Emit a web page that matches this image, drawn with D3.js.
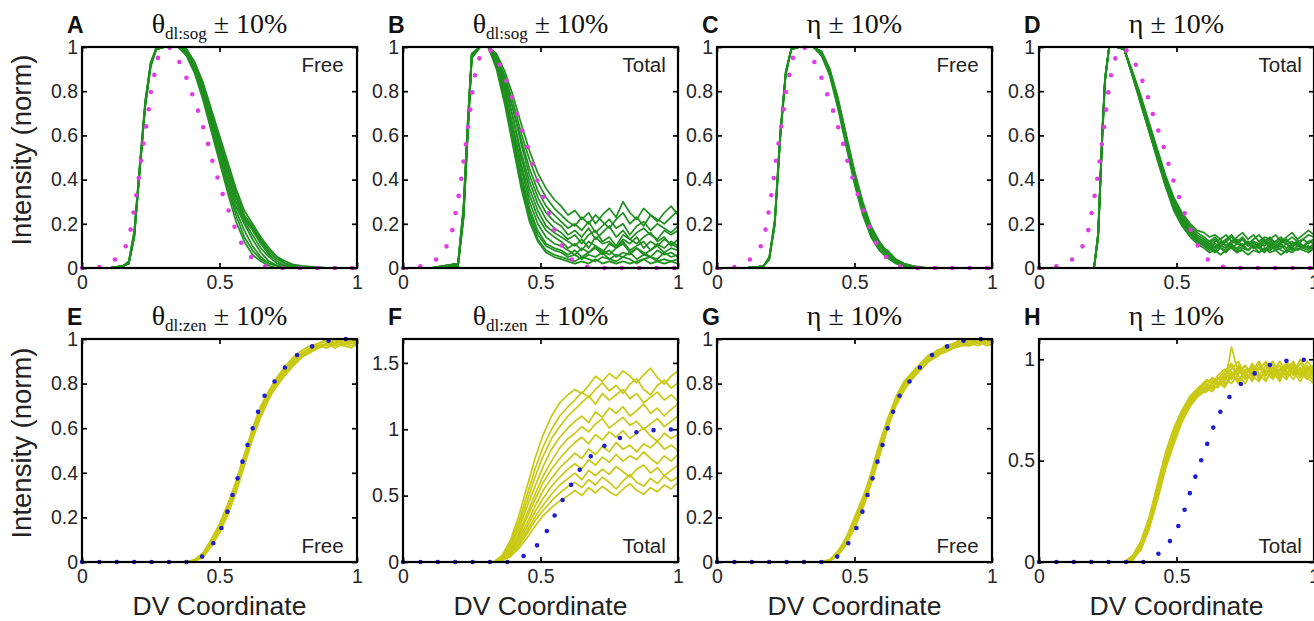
<!DOCTYPE html>
<html>
<head>
<meta charset="utf-8">
<script src="https://cdn.jsdelivr.net/npm/d3@7"></script>
<style>
  body { margin: 0; background: #fff; }
  svg { display: block; }
</style>
</head>
<body>
<div id="chart"></div>
<script>
// ---------- data ----------

var xTicks = [0, 0.5, 1]
var yTicks01 = [0, 0.2, 0.4, 0.6, 0.8, 1]
var yTicksF = [0, 0.5, 1, 1.5]
var yTicksH = [0, 0.5, 1]

// reference (dotted) profiles, [x, y]
var refFree = [[0, 0], [0.07, 0.005], [0.13, 0.045], [0.16, 0.1], [0.178, 0.18], [0.19, 0.27], [0.2, 0.35], [0.209, 0.43], [0.217, 0.51], [0.226, 0.58], [0.235, 0.655], [0.244, 0.73], [0.252, 0.81], [0.266, 0.89], [0.276, 0.95], [0.295, 0.99], [0.315, 1], [0.335, 0.98], [0.355, 0.93], [0.38, 0.86], [0.4, 0.79], [0.42, 0.72], [0.44, 0.64], [0.457, 0.57], [0.473, 0.49], [0.49, 0.42], [0.51, 0.34], [0.53, 0.27], [0.552, 0.195], [0.573, 0.127], [0.6, 0.07], [0.63, 0.03], [0.655, 0.01], [0.7, 0], [1, 0]]
var refTotal = [[0, 0], [0.08, 0.01], [0.137, 0.05], [0.17, 0.125], [0.185, 0.2], [0.195, 0.28], [0.206, 0.35], [0.215, 0.43], [0.223, 0.51], [0.232, 0.59], [0.24, 0.67], [0.247, 0.75], [0.256, 0.83], [0.266, 0.9], [0.278, 0.95], [0.29, 0.98], [0.31, 0.995], [0.338, 0.96], [0.362, 0.89], [0.385, 0.82], [0.404, 0.74], [0.42, 0.67], [0.443, 0.59], [0.46, 0.52], [0.478, 0.44], [0.498, 0.36], [0.52, 0.285], [0.54, 0.21], [0.56, 0.14], [0.592, 0.068], [0.62, 0.03], [0.647, 0.01], [0.7, 0], [1, 0]]
var refFreeZen = [[0, 0], [0.4, 0], [0.425, 0.01], [0.446, 0.035], [0.484, 0.094], [0.511, 0.163], [0.532, 0.237], [0.55, 0.312], [0.568, 0.384], [0.586, 0.46], [0.604, 0.533], [0.622, 0.605], [0.642, 0.68], [0.665, 0.749], [0.702, 0.813], [0.74, 0.876], [0.783, 0.929], [0.835, 0.966], [0.894, 0.992], [0.95, 1], [1, 1]]
var refTotalZen = [[0, 0], [0.38, 0], [0.405, 0.01], [0.457, 0.064], [0.497, 0.145], [0.525, 0.24], [0.55, 0.345], [0.574, 0.443], [0.596, 0.525], [0.619, 0.61], [0.644, 0.7], [0.674, 0.78], [0.712, 0.85], [0.755, 0.905], [0.81, 0.953], [0.869, 0.99], [0.935, 0.995], [1, 1]]

// A: theta sog, free
var xA = [0, 0.1, 0.15, 0.17, 0.19, 0.21, 0.23, 0.25, 0.27, 0.3, 0.35, 0.38, 0.41, 0.44, 0.47, 0.5, 0.53, 0.56, 0.59, 0.62, 0.65, 0.68, 0.71, 0.74, 0.77, 0.8, 0.9, 1]
var curvesA = [
  [0, 0, 0.01, 0.03, 0.17, 0.47, 0.76, 0.93, 0.99, 1, 1, 0.96, 0.88, 0.76, 0.62, 0.48, 0.34, 0.21, 0.12, 0.06, 0.03, 0.01, 0, 0, 0, 0, 0, 0],
  [0, 0, 0.01, 0.02, 0.15, 0.45, 0.74, 0.92, 0.99, 1, 1, 0.97, 0.89, 0.78, 0.64, 0.5, 0.36, 0.24, 0.14, 0.08, 0.04, 0.02, 0.01, 0, 0, 0, 0, 0],
  [0, 0, 0.01, 0.02, 0.14, 0.44, 0.73, 0.92, 0.99, 1, 1, 0.97, 0.9, 0.79, 0.66, 0.52, 0.38, 0.26, 0.17, 0.1, 0.05, 0.02, 0.01, 0.005, 0, 0, 0, 0],
  [0, 0, 0.01, 0.02, 0.15, 0.46, 0.75, 0.93, 1, 1, 1, 0.98, 0.9, 0.8, 0.67, 0.54, 0.4, 0.28, 0.2, 0.13, 0.07, 0.03, 0.01, 0.005, 0, 0, 0, 0],
  [0, 0, 0.01, 0.02, 0.14, 0.44, 0.74, 0.92, 0.99, 1, 1, 0.98, 0.91, 0.81, 0.68, 0.55, 0.42, 0.3, 0.21, 0.15, 0.09, 0.05, 0.02, 0.01, 0.005, 0, 0, 0],
  [0, 0, 0.01, 0.03, 0.16, 0.46, 0.75, 0.93, 0.99, 1, 1, 0.98, 0.92, 0.82, 0.69, 0.56, 0.43, 0.32, 0.22, 0.17, 0.11, 0.06, 0.03, 0.01, 0.005, 0, 0, 0],
  [0, 0, 0.01, 0.02, 0.15, 0.45, 0.74, 0.92, 0.99, 1, 1, 0.99, 0.92, 0.82, 0.7, 0.57, 0.45, 0.33, 0.23, 0.18, 0.12, 0.07, 0.04, 0.02, 0.01, 0.005, 0, 0],
  [0, 0, 0.01, 0.02, 0.14, 0.44, 0.73, 0.91, 0.99, 1, 1, 0.99, 0.93, 0.83, 0.71, 0.58, 0.46, 0.35, 0.24, 0.19, 0.13, 0.08, 0.05, 0.02, 0.01, 0.005, 0, 0],
  [0, 0, 0.01, 0.02, 0.15, 0.45, 0.74, 0.92, 0.99, 1, 1, 0.99, 0.93, 0.84, 0.72, 0.6, 0.48, 0.36, 0.26, 0.2, 0.14, 0.09, 0.05, 0.03, 0.015, 0.01, 0, 0]
]

// B: theta sog, total
var xB = [0, 0.1, 0.2, 0.22, 0.235, 0.25, 0.28, 0.31, 0.34, 0.37, 0.4, 0.43, 0.46, 0.49, 0.52, 0.55, 0.575, 0.6, 0.625, 0.65, 0.675, 0.7, 0.725, 0.75, 0.775, 0.8, 0.825, 0.85, 0.875, 0.9, 0.925, 0.95, 0.975, 1]
var curvesB = [
  [0, 0, 0.01, 0.25, 0.62, 0.96, 1, 1, 0.97, 0.89, 0.78, 0.65, 0.53, 0.43, 0.36, 0.31, 0.28, 0.24, 0.26, 0.22, 0.25, 0.2, 0.24, 0.27, 0.23, 0.3, 0.25, 0.22, 0.27, 0.24, 0.21, 0.25, 0.28, 0.24],
  [0, 0, 0.01, 0.22, 0.58, 0.95, 1, 1, 0.96, 0.87, 0.75, 0.61, 0.49, 0.39, 0.32, 0.27, 0.24, 0.21, 0.19, 0.23, 0.2, 0.24, 0.21, 0.18, 0.22, 0.25, 0.2, 0.23, 0.19, 0.24, 0.22, 0.2, 0.23, 0.26],
  [0, 0, 0.02, 0.28, 0.66, 0.97, 1, 1, 0.95, 0.85, 0.72, 0.58, 0.45, 0.35, 0.28, 0.24, 0.21, 0.18, 0.2, 0.17, 0.21, 0.16, 0.19, 0.22, 0.18, 0.2, 0.15, 0.19, 0.21, 0.17, 0.2, 0.18, 0.16, 0.19],
  [0, 0, 0.01, 0.25, 0.62, 0.96, 1, 1, 0.96, 0.86, 0.72, 0.56, 0.42, 0.32, 0.25, 0.21, 0.19, 0.15, 0.17, 0.14, 0.18, 0.13, 0.16, 0.19, 0.14, 0.17, 0.13, 0.16, 0.18, 0.15, 0.13, 0.17, 0.15, 0.17],
  [0, 0, 0.01, 0.23, 0.6, 0.95, 1, 1, 0.94, 0.83, 0.68, 0.52, 0.39, 0.29, 0.22, 0.18, 0.16, 0.13, 0.15, 0.11, 0.15, 0.17, 0.12, 0.14, 0.1, 0.15, 0.13, 0.11, 0.14, 0.16, 0.12, 0.14, 0.1, 0.13],
  [0, 0, 0.02, 0.27, 0.64, 0.97, 1, 1, 0.95, 0.84, 0.68, 0.5, 0.36, 0.26, 0.19, 0.16, 0.14, 0.12, 0.1, 0.13, 0.09, 0.14, 0.11, 0.12, 0.09, 0.13, 0.11, 0.14, 0.09, 0.12, 0.1, 0.13, 0.11, 0.09],
  [0, 0, 0.01, 0.25, 0.62, 0.96, 1, 1, 0.93, 0.8, 0.64, 0.47, 0.33, 0.23, 0.17, 0.14, 0.12, 0.09, 0.11, 0.08, 0.12, 0.1, 0.07, 0.11, 0.09, 0.12, 0.08, 0.1, 0.12, 0.08, 0.11, 0.09, 0.12, 0.1],
  [0, 0, 0.01, 0.24, 0.61, 0.96, 1, 1, 0.94, 0.81, 0.63, 0.45, 0.3, 0.2, 0.14, 0.11, 0.1, 0.08, 0.06, 0.09, 0.07, 0.1, 0.08, 0.06, 0.09, 0.11, 0.07, 0.09, 0.06, 0.08, 0.1, 0.07, 0.09, 0.08],
  [0, 0, 0.02, 0.26, 0.63, 0.96, 1, 1, 0.92, 0.78, 0.6, 0.42, 0.27, 0.17, 0.11, 0.09, 0.08, 0.06, 0.08, 0.05, 0.07, 0.09, 0.06, 0.08, 0.05, 0.07, 0.06, 0.09, 0.07, 0.05, 0.08, 0.06, 0.07, 0.05],
  [0, 0, 0.01, 0.25, 0.62, 0.96, 1, 1, 0.93, 0.79, 0.6, 0.4, 0.25, 0.15, 0.1, 0.08, 0.07, 0.05, 0.06, 0.04, 0.06, 0.05, 0.07, 0.04, 0.06, 0.05, 0.07, 0.04, 0.06, 0.05, 0.04, 0.07, 0.05, 0.06],
  [0, 0, 0.01, 0.23, 0.6, 0.95, 1, 1, 0.91, 0.76, 0.57, 0.38, 0.23, 0.13, 0.08, 0.06, 0.05, 0.04, 0.03, 0.05, 0.04, 0.03, 0.05, 0.04, 0.03, 0.05, 0.04, 0.02, 0.04, 0.05, 0.03, 0.04, 0.03, 0.04],
  [0, 0, 0.02, 0.27, 0.65, 0.97, 1, 1, 0.9, 0.74, 0.55, 0.36, 0.21, 0.12, 0.07, 0.05, 0.04, 0.03, 0.02, 0.03, 0.02, 0.04, 0.02, 0.03, 0.02, 0.03, 0.02, 0.03, 0.04, 0.02, 0.03, 0.02, 0.03, 0.02]
]

// C: eta, free
var xC = xA
var curvesC = [
  [0, 0, 0.005, 0.01, 0.04, 0.2, 0.6, 0.88, 0.99, 1, 1, 0.97, 0.88, 0.74, 0.57, 0.4, 0.26, 0.15, 0.09, 0.05, 0.025, 0.01, 0.005, 0, 0, 0, 0, 0],
  [0, 0, 0.005, 0.01, 0.05, 0.22, 0.62, 0.89, 0.99, 1, 1, 0.96, 0.87, 0.72, 0.55, 0.38, 0.24, 0.14, 0.08, 0.045, 0.02, 0.01, 0, 0, 0, 0, 0, 0],
  [0, 0, 0.005, 0.01, 0.04, 0.19, 0.58, 0.87, 0.99, 1, 1, 0.97, 0.89, 0.75, 0.59, 0.42, 0.28, 0.17, 0.1, 0.06, 0.03, 0.012, 0.005, 0, 0, 0, 0, 0],
  [0, 0, 0.005, 0.01, 0.04, 0.21, 0.61, 0.88, 0.99, 1, 1, 0.98, 0.9, 0.77, 0.6, 0.43, 0.29, 0.18, 0.12, 0.07, 0.035, 0.015, 0.005, 0, 0, 0, 0, 0],
  [0, 0, 0.005, 0.01, 0.05, 0.2, 0.59, 0.88, 0.99, 1, 1, 0.97, 0.88, 0.73, 0.56, 0.39, 0.25, 0.16, 0.11, 0.06, 0.03, 0.01, 0.005, 0, 0, 0, 0, 0],
  [0, 0, 0.005, 0.01, 0.04, 0.2, 0.6, 0.88, 0.99, 1, 1, 0.97, 0.89, 0.76, 0.58, 0.41, 0.27, 0.16, 0.1, 0.08, 0.04, 0.02, 0.01, 0, 0, 0, 0, 0],
  [0, 0, 0.005, 0.01, 0.04, 0.21, 0.6, 0.89, 0.99, 1, 1, 0.98, 0.9, 0.76, 0.6, 0.44, 0.3, 0.19, 0.12, 0.07, 0.04, 0.02, 0.01, 0.005, 0, 0, 0, 0]
]

// D: eta, total
var xD = [0, 0.1, 0.2, 0.215, 0.23, 0.24, 0.255, 0.28, 0.31, 0.34, 0.37, 0.4, 0.43, 0.46, 0.49, 0.52, 0.55, 0.575, 0.6, 0.62, 0.64, 0.66, 0.68, 0.7, 0.72, 0.74, 0.76, 0.78, 0.8, 0.82, 0.84, 0.86, 0.88, 0.9, 0.92, 0.94, 0.96, 0.98, 1]
var curvesD = [
  [0, 0, 0, 0.15, 0.6, 0.85, 1, 1, 0.99, 0.89, 0.78, 0.66, 0.54, 0.42, 0.32, 0.25, 0.2, 0.17, 0.16, 0.14, 0.15, 0.13, 0.15, 0.12, 0.14, 0.16, 0.13, 0.15, 0.12, 0.14, 0.13, 0.15, 0.12, 0.14, 0.16, 0.13, 0.15, 0.17, 0.15],
  [0, 0, 0, 0.13, 0.57, 0.84, 1, 1, 0.99, 0.88, 0.77, 0.65, 0.53, 0.41, 0.31, 0.24, 0.19, 0.16, 0.14, 0.12, 0.14, 0.11, 0.13, 0.15, 0.12, 0.14, 0.11, 0.13, 0.15, 0.12, 0.14, 0.11, 0.13, 0.12, 0.14, 0.12, 0.13, 0.15, 0.14],
  [0, 0, 0, 0.16, 0.62, 0.86, 1, 1, 0.99, 0.88, 0.76, 0.64, 0.52, 0.4, 0.3, 0.23, 0.18, 0.15, 0.13, 0.11, 0.13, 0.1, 0.12, 0.14, 0.11, 0.13, 0.1, 0.12, 0.11, 0.13, 0.1, 0.12, 0.14, 0.11, 0.12, 0.1, 0.13, 0.11, 0.13],
  [0, 0, 0, 0.14, 0.59, 0.85, 1, 1, 0.99, 0.87, 0.75, 0.63, 0.51, 0.39, 0.29, 0.22, 0.17, 0.14, 0.12, 0.1, 0.12, 0.13, 0.1, 0.12, 0.11, 0.13, 0.1, 0.12, 0.09, 0.11, 0.13, 0.1, 0.12, 0.11, 0.09, 0.12, 0.1, 0.12, 0.11],
  [0, 0, 0, 0.15, 0.61, 0.85, 1, 1, 0.99, 0.88, 0.76, 0.64, 0.52, 0.4, 0.29, 0.22, 0.17, 0.14, 0.12, 0.11, 0.09, 0.12, 0.1, 0.11, 0.13, 0.1, 0.12, 0.09, 0.11, 0.1, 0.12, 0.09, 0.11, 0.13, 0.1, 0.11, 0.09, 0.12, 0.13],
  [0, 0, 0, 0.14, 0.6, 0.85, 1, 1, 0.99, 0.87, 0.75, 0.62, 0.5, 0.38, 0.28, 0.21, 0.16, 0.13, 0.11, 0.09, 0.11, 0.1, 0.12, 0.09, 0.11, 0.1, 0.08, 0.11, 0.1, 0.12, 0.09, 0.1, 0.11, 0.09, 0.11, 0.12, 0.1, 0.09, 0.11],
  [0, 0, 0, 0.16, 0.62, 0.86, 1, 1, 0.99, 0.88, 0.76, 0.63, 0.51, 0.39, 0.28, 0.21, 0.16, 0.13, 0.11, 0.1, 0.08, 0.1, 0.09, 0.11, 0.08, 0.1, 0.12, 0.09, 0.1, 0.08, 0.11, 0.09, 0.1, 0.08, 0.1, 0.11, 0.09, 0.1, 0.08],
  [0, 0, 0, 0.15, 0.6, 0.85, 1, 1, 0.99, 0.87, 0.74, 0.62, 0.5, 0.38, 0.27, 0.2, 0.15, 0.12, 0.1, 0.08, 0.1, 0.09, 0.07, 0.1, 0.09, 0.11, 0.08, 0.1, 0.09, 0.07, 0.1, 0.08, 0.09, 0.11, 0.08, 0.1, 0.09, 0.08, 0.1],
  [0, 0, 0, 0.14, 0.58, 0.84, 1, 1, 0.99, 0.88, 0.75, 0.62, 0.5, 0.37, 0.27, 0.2, 0.15, 0.12, 0.1, 0.09, 0.07, 0.09, 0.08, 0.1, 0.07, 0.09, 0.08, 0.1, 0.07, 0.09, 0.08, 0.1, 0.08, 0.07, 0.09, 0.08, 0.1, 0.09, 0.1],
  [0, 0, 0, 0.15, 0.61, 0.86, 1, 1, 0.99, 0.87, 0.75, 0.62, 0.49, 0.37, 0.26, 0.19, 0.14, 0.11, 0.09, 0.07, 0.08, 0.06, 0.08, 0.09, 0.07, 0.08, 0.06, 0.08, 0.07, 0.09, 0.07, 0.08, 0.06, 0.08, 0.07, 0.09, 0.08, 0.07, 0.09]
]

// E: theta zen, free
var xE = [0, 0.2, 0.38, 0.41, 0.44, 0.47, 0.5, 0.53, 0.56, 0.59, 0.62, 0.65, 0.68, 0.71, 0.74, 0.77, 0.8, 0.83, 0.86, 0.89, 0.92, 0.95, 0.98, 1]
var curvesE = [
  [0, 0, 0, 0.005, 0.03, 0.08, 0.15, 0.23, 0.33, 0.45, 0.57, 0.67, 0.75, 0.81, 0.86, 0.9, 0.93, 0.95, 0.97, 0.98, 0.98, 0.99, 0.98, 0.99],
  [0, 0, 0, 0.01, 0.04, 0.1, 0.17, 0.26, 0.36, 0.48, 0.59, 0.69, 0.76, 0.82, 0.87, 0.91, 0.93, 0.96, 0.97, 0.96, 0.99, 0.98, 1, 0.98],
  [0, 0, 0, 0.005, 0.03, 0.07, 0.13, 0.21, 0.31, 0.43, 0.55, 0.65, 0.73, 0.8, 0.85, 0.89, 0.92, 0.94, 0.96, 0.98, 0.97, 0.98, 0.99, 0.97],
  [0, 0, 0, 0.01, 0.04, 0.09, 0.16, 0.25, 0.35, 0.47, 0.58, 0.68, 0.76, 0.82, 0.86, 0.91, 0.94, 0.95, 0.98, 0.97, 1, 0.97, 0.99, 1],
  [0, 0, 0, 0.01, 0.03, 0.08, 0.14, 0.22, 0.32, 0.44, 0.56, 0.66, 0.74, 0.8, 0.85, 0.89, 0.92, 0.95, 0.96, 0.98, 0.96, 0.98, 0.97, 0.98],
  [0, 0, 0, 0.005, 0.03, 0.09, 0.16, 0.24, 0.34, 0.46, 0.58, 0.68, 0.75, 0.81, 0.87, 0.9, 0.94, 0.96, 0.98, 0.99, 0.98, 1, 0.98, 0.99],
  [0, 0, 0, 0.005, 0.02, 0.07, 0.14, 0.22, 0.32, 0.44, 0.56, 0.66, 0.74, 0.79, 0.84, 0.88, 0.92, 0.94, 0.97, 0.96, 0.98, 0.97, 0.96, 0.98],
  [0, 0, 0, 0.01, 0.04, 0.1, 0.17, 0.25, 0.36, 0.48, 0.6, 0.7, 0.77, 0.83, 0.88, 0.92, 0.95, 0.97, 0.98, 1, 0.98, 0.99, 1, 0.99]
]

// F: theta zen, total
var xF = [0, 0.2, 0.33, 0.36, 0.39, 0.42, 0.45, 0.48, 0.51, 0.54, 0.57, 0.6, 0.625, 0.65, 0.675, 0.7, 0.725, 0.75, 0.775, 0.8, 0.825, 0.85, 0.875, 0.9, 0.925, 0.95, 0.975, 1]
var curvesF = [
  [0, 0, 0, 0.05, 0.16, 0.34, 0.56, 0.78, 0.96, 1.1, 1.2, 1.26, 1.3, 1.27, 1.33, 1.4, 1.36, 1.42, 1.38, 1.44, 1.4, 1.35, 1.41, 1.46, 1.39, 1.34, 1.4, 1.44],
  [0, 0, 0, 0.04, 0.14, 0.3, 0.5, 0.7, 0.87, 1.0, 1.1, 1.17, 1.22, 1.28, 1.24, 1.3, 1.35, 1.29, 1.33, 1.27, 1.34, 1.38, 1.3, 1.26, 1.33, 1.37, 1.31, 1.35],
  [0, 0, 0, 0.03, 0.12, 0.27, 0.45, 0.64, 0.8, 0.93, 1.02, 1.1, 1.15, 1.2, 1.25, 1.19, 1.27, 1.22, 1.26, 1.3, 1.23, 1.27, 1.2, 1.24, 1.28, 1.22, 1.26, 1.21],
  [0, 0, 0, 0.03, 0.11, 0.24, 0.41, 0.57, 0.72, 0.85, 0.94, 1.01, 1.06, 1.1, 1.05, 1.13, 1.09, 1.16, 1.12, 1.17, 1.1, 1.14, 1.19, 1.12, 1.16, 1.1, 1.15, 1.19],
  [0, 0, 0, 0.02, 0.09, 0.21, 0.36, 0.51, 0.65, 0.76, 0.86, 0.93, 0.97, 1.02, 0.98, 1.04, 1.08, 1.01, 1.05, 1.09, 1.03, 1.06, 1.0, 1.04, 1.08, 1.02, 1.06, 1.1],
  [0, 0, 0, 0.02, 0.08, 0.19, 0.33, 0.47, 0.6, 0.7, 0.78, 0.85, 0.9, 0.94, 0.89, 0.96, 0.92, 0.98, 0.94, 0.99, 0.93, 0.97, 1.01, 0.95, 0.91, 0.97, 0.93, 0.96],
  [0, 0, 0, 0.02, 0.07, 0.17, 0.29, 0.42, 0.54, 0.63, 0.71, 0.77, 0.82, 0.78, 0.85, 0.81, 0.87, 0.83, 0.9, 0.85, 0.88, 0.83, 0.89, 0.86, 0.91, 0.85, 0.88, 0.84],
  [0, 0, 0, 0.01, 0.06, 0.15, 0.26, 0.38, 0.48, 0.57, 0.64, 0.7, 0.74, 0.7, 0.77, 0.73, 0.79, 0.75, 0.81, 0.76, 0.8, 0.77, 0.83, 0.78, 0.74, 0.8, 0.76, 0.81],
  [0, 0, 0, 0.01, 0.05, 0.13, 0.23, 0.34, 0.43, 0.51, 0.58, 0.63, 0.67, 0.62, 0.69, 0.65, 0.7, 0.66, 0.72, 0.68, 0.64, 0.7, 0.73, 0.67, 0.71, 0.65, 0.69, 0.73],
  [0, 0, 0, 0.01, 0.05, 0.12, 0.21, 0.31, 0.39, 0.46, 0.52, 0.57, 0.6, 0.56, 0.62, 0.58, 0.64, 0.6, 0.55, 0.61, 0.66, 0.6, 0.57, 0.63, 0.59, 0.65, 0.61, 0.64],
  [0, 0, 0, 0.01, 0.04, 0.1, 0.18, 0.27, 0.35, 0.41, 0.46, 0.5, 0.54, 0.5, 0.56, 0.52, 0.57, 0.53, 0.5, 0.55, 0.59, 0.54, 0.51, 0.56, 0.53, 0.58, 0.55, 0.6]
]

// G: eta, free
var xG = xE
var curvesG = [
  [0, 0, 0, 0.005, 0.035, 0.09, 0.17, 0.26, 0.37, 0.5, 0.62, 0.72, 0.79, 0.84, 0.88, 0.91, 0.93, 0.95, 0.97, 0.98, 0.98, 0.99, 1, 0.99],
  [0, 0, 0, 0.01, 0.04, 0.11, 0.19, 0.28, 0.4, 0.53, 0.64, 0.73, 0.8, 0.85, 0.89, 0.92, 0.94, 0.96, 0.97, 0.99, 0.98, 1, 0.98, 0.99],
  [0, 0, 0, 0.005, 0.03, 0.08, 0.15, 0.24, 0.35, 0.48, 0.6, 0.7, 0.77, 0.83, 0.87, 0.9, 0.93, 0.95, 0.96, 0.97, 0.98, 0.97, 0.99, 0.98],
  [0, 0, 0, 0.01, 0.05, 0.11, 0.2, 0.29, 0.39, 0.52, 0.64, 0.74, 0.81, 0.85, 0.89, 0.93, 0.94, 0.96, 0.98, 0.97, 1, 0.98, 0.99, 1],
  [0, 0, 0, 0.005, 0.03, 0.09, 0.16, 0.25, 0.36, 0.49, 0.61, 0.71, 0.78, 0.83, 0.87, 0.9, 0.92, 0.95, 0.96, 0.98, 0.97, 0.99, 0.98, 0.97],
  [0, 0, 0, 0.01, 0.04, 0.1, 0.18, 0.27, 0.38, 0.51, 0.63, 0.72, 0.8, 0.85, 0.88, 0.92, 0.95, 0.96, 0.98, 0.99, 1, 0.98, 1, 0.99],
  [0, 0, 0, 0.005, 0.03, 0.08, 0.16, 0.24, 0.35, 0.47, 0.6, 0.7, 0.77, 0.82, 0.86, 0.9, 0.93, 0.94, 0.96, 0.97, 0.97, 0.99, 0.97, 0.98],
  [0, 0, 0, 0.01, 0.04, 0.1, 0.19, 0.28, 0.38, 0.51, 0.63, 0.73, 0.8, 0.84, 0.89, 0.92, 0.94, 0.97, 0.98, 1, 0.99, 0.98, 1, 1]
]

// H: eta, total
var xH = [0, 0.2, 0.31, 0.34, 0.37, 0.4, 0.43, 0.46, 0.49, 0.52, 0.55, 0.58, 0.61, 0.63, 0.65, 0.675, 0.7, 0.725, 0.75, 0.775, 0.8, 0.825, 0.85, 0.875, 0.9, 0.925, 0.95, 0.975, 1]
var curvesH = [
  [0, 0, 0, 0.02, 0.08, 0.19, 0.34, 0.5, 0.62, 0.72, 0.79, 0.84, 0.86, 0.88, 0.9, 0.92, 0.97, 0.9, 0.94, 0.89, 0.96, 0.92, 0.98, 0.9, 0.95, 0.99, 0.91, 0.96, 0.93],
  [0, 0, 0, 0.03, 0.1, 0.22, 0.38, 0.54, 0.66, 0.75, 0.82, 0.86, 0.88, 0.85, 0.91, 0.88, 1.06, 0.93, 0.97, 0.91, 0.95, 0.99, 0.92, 0.97, 0.93, 0.98, 0.94, 0.9, 0.96],
  [0, 0, 0, 0.01, 0.06, 0.16, 0.3, 0.46, 0.58, 0.69, 0.77, 0.82, 0.85, 0.87, 0.86, 0.9, 0.94, 0.88, 0.93, 0.97, 0.9, 0.95, 0.93, 0.99, 0.94, 0.9, 0.96, 0.92, 0.9],
  [0, 0, 0, 0.02, 0.09, 0.2, 0.36, 0.52, 0.64, 0.73, 0.8, 0.85, 0.89, 0.9, 0.87, 0.93, 0.9, 0.96, 0.91, 0.98, 0.93, 0.89, 0.96, 0.92, 0.99, 0.95, 0.91, 0.97, 0.94],
  [0, 0, 0, 0.02, 0.07, 0.18, 0.33, 0.48, 0.61, 0.71, 0.78, 0.83, 0.84, 0.87, 0.89, 0.86, 0.92, 0.95, 0.9, 0.94, 0.99, 0.93, 0.96, 0.91, 0.97, 0.93, 0.98, 0.93, 0.89],
  [0, 0, 0, 0.03, 0.1, 0.21, 0.37, 0.53, 0.65, 0.74, 0.81, 0.86, 0.9, 0.88, 0.92, 0.95, 0.91, 0.97, 0.93, 0.9, 0.96, 0.98, 0.91, 0.95, 0.92, 0.97, 0.93, 0.99, 0.95],
  [0, 0, 0, 0.01, 0.07, 0.17, 0.31, 0.47, 0.6, 0.7, 0.78, 0.82, 0.85, 0.89, 0.88, 0.91, 0.88, 0.93, 0.97, 0.92, 0.89, 0.95, 0.99, 0.93, 0.9, 0.96, 0.92, 0.95, 0.97],
  [0, 0, 0, 0.02, 0.08, 0.2, 0.35, 0.51, 0.63, 0.72, 0.8, 0.84, 0.87, 0.86, 0.9, 0.94, 0.98, 0.92, 0.88, 0.95, 0.92, 0.97, 0.94, 0.89, 0.96, 0.93, 1.0, 0.94, 0.91],
  [0, 0, 0, 0.02, 0.09, 0.19, 0.34, 0.49, 0.62, 0.72, 0.79, 0.85, 0.87, 0.91, 0.89, 0.87, 0.93, 0.89, 0.95, 0.93, 0.98, 0.9, 0.94, 0.97, 0.91, 0.94, 0.89, 0.95, 0.92],
  [0, 0, 0, 0.01, 0.06, 0.17, 0.32, 0.48, 0.6, 0.7, 0.77, 0.83, 0.86, 0.84, 0.88, 0.92, 0.95, 0.99, 0.92, 0.96, 0.91, 0.94, 0.9, 0.95, 0.98, 0.92, 0.95, 0.91, 0.88]
]

// ---------- layout ----------

var W = 1314
var H = 621
var colLeft = [82, 403, 717, 1039]
var plotW = 275
var rowTop = [47, 339]
var rowBottom = [268, 562]

var green = '#1f8f1f'
var yellow = '#c9c914'
var magenta = '#e03ce6'
var blue = '#1e1ed2'
var sans = '"Liberation Sans", Arial, Helvetica, sans-serif'
var serif = '"Liberation Serif", "Times New Roman", Times, serif'

var panels = [
  { id: 'A', col: 0, row: 0, sym: 'θ', sub: 'dl:sog', tag: 'Free', xs: xA, curves: curvesA, ref: refFree, color: green, refColor: magenta, yMax: 1, yTicks: yTicks01 },
  { id: 'B', col: 1, row: 0, sym: 'θ', sub: 'dl:sog', tag: 'Total', xs: xB, curves: curvesB, ref: refTotal, color: green, refColor: magenta, yMax: 1, yTicks: yTicks01 },
  { id: 'C', col: 2, row: 0, sym: 'η', sub: '', tag: 'Free', xs: xC, curves: curvesC, ref: refFree, color: green, refColor: magenta, yMax: 1, yTicks: yTicks01 },
  { id: 'D', col: 3, row: 0, sym: 'η', sub: '', tag: 'Total', xs: xD, curves: curvesD, ref: refTotal, color: green, refColor: magenta, yMax: 1, yTicks: yTicks01 },
  { id: 'E', col: 0, row: 1, sym: 'θ', sub: 'dl:zen', tag: 'Free', xs: xE, curves: curvesE, ref: refFreeZen, color: yellow, refColor: blue, yMax: 1, yTicks: yTicks01 },
  { id: 'F', col: 1, row: 1, sym: 'θ', sub: 'dl:zen', tag: 'Total', xs: xF, curves: curvesF, ref: refTotalZen, color: yellow, refColor: blue, yMax: 1.68, yTicks: yTicksF },
  { id: 'G', col: 2, row: 1, sym: 'η', sub: '', tag: 'Free', xs: xG, curves: curvesG, ref: refFreeZen, color: yellow, refColor: blue, yMax: 1, yTicks: yTicks01 },
  { id: 'H', col: 3, row: 1, sym: 'η', sub: '', tag: 'Total', xs: xH, curves: curvesH, ref: refTotalZen, color: yellow, refColor: blue, yMax: 1.1, yTicks: yTicksH }
]

var svg = d3
  .select('#chart')
  .append('svg')
  .attr('width', W)
  .attr('height', H)

var fmt = d => String(d)

panels.forEach(p => {
  var left = colLeft[p.col]
  var top = rowTop[p.row]
  var bottom = rowBottom[p.row]

  var xScale = d3.scaleLinear().domain([0, 1]).range([left, left + plotW])
  var yScale = d3.scaleLinear().domain([0, p.yMax]).range([bottom, top])

  var g = svg.append('g').attr('class', 'panel panel-' + p.id)

  svg
    .append('clipPath')
    .attr('id', 'clip-' + p.id)
    .append('rect')
    .attr('x', left)
    .attr('y', top - 2)
    .attr('width', plotW)
    .attr('height', bottom - top + 2)

  // curves
  var line = d3
    .line()
    .x((d, i) => xScale(p.xs[i]))
    .y(d => yScale(d))

  g.append('g')
    .attr('clip-path', 'url(#clip-' + p.id + ')')
    .selectAll('path')
    .data(p.curves)
    .enter()
    .append('path')
    .attr('d', d => line(d.slice(0, p.xs.length)))
    .attr('fill', 'none')
    .attr('stroke', p.color)
    .attr('stroke-width', 1.7)
    .attr('stroke-linejoin', 'round')

  // dotted reference
  var refLine = d3
    .line()
    .x(d => xScale(d[0]))
    .y(d => yScale(d[1]))

  g.append('path')
    .attr('d', refLine(p.ref))
    .attr('fill', 'none')
    .attr('stroke', p.refColor)
    .attr('stroke-width', 4.6)
    .attr('stroke-linecap', 'round')
    .attr('stroke-dasharray', '0 17.4')

  // axes, inward ticks on all four sides
  var axB = d3.axisBottom(xScale).tickValues(xTicks).tickFormat(fmt).tickSizeInner(-5).tickSizeOuter(0).tickPadding(7)
  var axT = d3.axisTop(xScale).tickValues(xTicks).tickFormat('').tickSizeInner(-5).tickSizeOuter(0)
  var axL = d3.axisLeft(yScale).tickValues(p.yTicks).tickFormat(fmt).tickSizeInner(-5).tickSizeOuter(0).tickPadding(4)
  var axR = d3.axisRight(yScale).tickValues(p.yTicks).tickFormat('').tickSizeInner(-5).tickSizeOuter(0)

  var axes = [
    [axB, 'translate(0,' + bottom + ')'],
    [axT, 'translate(0,' + top + ')'],
    [axL, 'translate(' + left + ',0)'],
    [axR, 'translate(' + (left + plotW) + ',0)']
  ]
  axes.forEach(a => {
    var ag = g.append('g').attr('transform', a[1]).call(a[0])
    ag.select('.domain').remove()
    ag.selectAll('line').attr('stroke', '#000').attr('stroke-width', 1.7)
    ag.selectAll('text')
      .attr('font-family', sans)
      .attr('font-size', 19.5)
      .attr('fill', '#262626')
  })

  g.append('rect')
    .attr('x', left)
    .attr('y', top)
    .attr('width', plotW)
    .attr('height', bottom - top)
    .attr('fill', 'none')
    .attr('stroke', '#000')
    .attr('stroke-width', 2.2)

  // panel letter
  g.append('text')
    .text(p.id)
    .attr('x', left - 15)
    .attr('y', top - 14)
    .attr('font-family', sans)
    .attr('font-weight', 'bold')
    .attr('font-size', 23)
    .attr('fill', '#111')

  // title
  var t = g
    .append('text')
    .attr('x', left + plotW / 2)
    .attr('y', top - 14)
    .attr('text-anchor', 'middle')
    .attr('font-family', serif)
    .attr('font-size', 28)
    .attr('fill', '#111')
  t.append('tspan').text(p.sym)
  if (p.sub) {
    t.append('tspan').text(p.sub).attr('font-size', 17).attr('dy', 6)
    t.append('tspan').text('\u00a0± 10%').attr('dy', -6)
  } else {
    t.append('tspan').text('\u00a0± 10%')
  }

  // Free / Total tag
  g.append('text')
    .text(p.tag)
    .attr('x', left + 219.5)
    .attr('y', p.row === 0 ? top + 25 : bottom - 9)
    .attr('font-family', sans)
    .attr('font-size', 20.5)
    .attr('fill', '#222')

  if (p.row === 1) {
    g.append('text')
      .text('DV Coordinate')
      .attr('x', left + plotW / 2)
      .attr('y', 615)
      .attr('text-anchor', 'middle')
      .attr('font-family', sans)
      .attr('font-size', 26.5)
      .attr('fill', '#222')
  }
})

// y labels
rowTop.forEach((top, r) => {
  var cy = (top + rowBottom[r]) / 2 - 7.5
  svg
    .append('text')
    .text('Intensity (norm)')
    .attr('transform', 'translate(31,' + cy + ') rotate(-90)')
    .attr('text-anchor', 'middle')
    .attr('font-family', sans)
    .attr('font-size', 27.5)
    .attr('fill', '#222')
})
</script>
</body>
</html>
